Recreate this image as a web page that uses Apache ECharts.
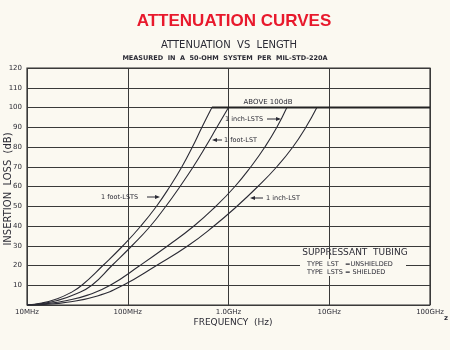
<!DOCTYPE html>
<html><head><meta charset="utf-8">
<script src="https://cdn.jsdelivr.net/npm/echarts@6/dist/echarts.min.js"></script>
<style>html,body{margin:0;padding:0;background:#fbf9f1;}#c{width:450px;height:350px;}</style>
</head><body><div id="c"></div>
<script>
// Frequencies in MHz, insertion loss in dB
const xTickLabels = {10:'10MHz',100:'100MHz',1000:'1.0GHz',10000:'10GHz',100000:'100GHz'};
const yTicks = [0,10,20,30,40,50,60,70,80,90,100,110,120];
const footLSTS = [[10,0],[14,1],[20,3.2],[27,6.2],[35,10],[56.7,20],[89.6,30],[135,40],[193,50],[262,60],[345,70],[438,80],[545,90],[684,100]];
const footLST  = [[10,0],[14,0.7],[20,2.3],[30,5.5],[44,10],[69.7,20],[110,30],[168,40],[239,50],[330,60],[447,70],[590,80],[767,90],[1000,100]];
const inchLSTS = [[10,0],[15,0.6],[25,2.3],[40,5],[67,10],[132,20],[250,30],[454,40],[750,50],[1158,60],[1668,70],[2297,80],[3020,90],[3796,100]];
const inchLST  = [[10,0],[15,0.3],[25,1.4],[50,4.6],[90,10],[193,20],[396,30],[717,40],[1212,50],[1957,60],[3020,70],[4354,80],[5860,90],[7534,100]];
const above100 = [[684,100],[100000,100]];

const ink = '#2b2b35';
const bg = '#fbf9f1';
const font = 'DejaVu Sans';
const chart = echarts.init(document.getElementById('c'));
function curve(name, data){
  return {name, type:'line', data, smooth:0.5, symbol:'none',
    lineStyle:{color:ink, width:1.1}, z:5};
}
chart.setOption({
  backgroundColor:bg,
  animation:false,
  grid:{left:27, right:20, top:68, bottom:45, show:true, borderColor:'#333', borderWidth:1.2},
  xAxis:{type:'log', logBase:10, min:10, max:100000,
    axisLine:{show:false}, axisTick:{show:false},
    splitLine:{show:true, lineStyle:{color:'#3a3a3a', width:1}},
    axisLabel:{color:ink, fontFamily:font, fontSize:7, margin:4,
      formatter:v=>xTickLabels[Math.round(v)]||''}},
  yAxis:{type:'value', min:0, max:120, interval:10,
    axisLine:{show:false}, axisTick:{show:false},
    splitLine:{show:true, lineStyle:{color:'#3a3a3a', width:1}},
    axisLabel:{color:ink, fontFamily:font, fontSize:7, margin:5,
      formatter:v=>v===0?'':String(v)}},
  series:[
    curve('1 foot-LSTS', footLSTS),
    curve('1 foot-LST', footLST),
    curve('1 inch-LSTS', inchLSTS),
    curve('1 inch-LST', inchLST),
    {name:'above', type:'line', data:above100, symbol:'none', lineStyle:{color:'#222', width:2}, z:6}
  ],
  graphic:[
    {type:'text', x:234, y:21, style:{text:'ATTENUATION CURVES', fill:'#e8192c', font:'bold 17px "Liberation Sans"', textAlign:'center', textVerticalAlign:'middle'}},
    {type:'text', x:229, y:45, style:{text:'ATTENUATION  VS  LENGTH', fill:ink, font:'10px "DejaVu Sans"', textAlign:'center', textVerticalAlign:'middle'}},
    {type:'text', x:225, y:58, style:{text:'MEASURED  IN  A  50-OHM  SYSTEM  PER  MIL-STD-220A', fill:ink, font:'bold 6.5px "DejaVu Sans"', textAlign:'center', textVerticalAlign:'middle'}},
    {type:'text', x:8, y:189, rotation:Math.PI/2, style:{text:'INSERTION  LOSS  (dB)', fill:ink, font:'10px "DejaVu Sans"', textAlign:'center', textVerticalAlign:'middle'}},
    {type:'text', x:233, y:323, style:{text:'FREQUENCY  (Hz)', fill:ink, font:'9px "DejaVu Sans"', textAlign:'center', textVerticalAlign:'middle'}},
    {type:'text', x:446, y:318, style:{text:'z', fill:ink, font:'bold 7px "DejaVu Sans"', textAlign:'center', textVerticalAlign:'middle'}},
    {type:'text', x:268, y:102, z:10, style:{text:'ABOVE 100dB', fill:ink, font:'7px "DejaVu Sans"', textAlign:'center', textVerticalAlign:'middle'}},
    // 1 inch-LSTS label + arrow
    {type:'text', x:225, y:119, z:10, style:{text:'1 inch-LSTS', fill:ink, font:'6.5px "DejaVu Sans"', textAlign:'left', textVerticalAlign:'middle'}},
    {type:'line', z:10, shape:{x1:267, y1:119, x2:279, y2:119}, style:{stroke:ink, lineWidth:1}},
    {type:'polygon', z:10, shape:{points:[[281,119],[276,117],[276,121]]}, style:{fill:ink}},
    // 1 foot-LST
    {type:'polygon', z:10, shape:{points:[[212,140],[217,138],[217,142]]}, style:{fill:ink}},
    {type:'line', z:10, shape:{x1:216, y1:140, x2:222, y2:140}, style:{stroke:ink, lineWidth:1}},
    {type:'text', x:224, y:140, z:10, style:{text:'1 foot-LST', fill:ink, font:'6.5px "DejaVu Sans"', textAlign:'left', textVerticalAlign:'middle'}},
    // 1 foot-LSTS
    {type:'text', x:101, y:197, z:10, style:{text:'1 foot-LSTS', fill:ink, font:'6.5px "DejaVu Sans"', textAlign:'left', textVerticalAlign:'middle'}},
    {type:'line', z:10, shape:{x1:147, y1:197, x2:157, y2:197}, style:{stroke:ink, lineWidth:1}},
    {type:'polygon', z:10, shape:{points:[[160,197],[155,195],[155,199]]}, style:{fill:ink}},
    // 1 inch-LST
    {type:'polygon', z:10, shape:{points:[[250,198],[255,196],[255,200]]}, style:{fill:ink}},
    {type:'line', z:10, shape:{x1:254, y1:198, x2:263, y2:198}, style:{stroke:ink, lineWidth:1}},
    {type:'text', x:266, y:198, z:10, style:{text:'1 inch-LST', fill:ink, font:'6.5px "DejaVu Sans"', textAlign:'left', textVerticalAlign:'middle'}},
    // Legend box text
    {type:'text', x:355, y:253, z:10, style:{text:'SUPPRESSANT  TUBING', fill:ink, font:'9px "DejaVu Sans"', textAlign:'center', textVerticalAlign:'middle'}},
    {type:'rect', z:9, shape:{x:300, y:259, width:106, height:17}, style:{fill:bg}},
    {type:'text', x:307, y:264, z:10, style:{text:'TYPE  LST   =UNSHIELDED', fill:ink, font:'6.5px "DejaVu Sans"', textAlign:'left', textVerticalAlign:'middle'}},
    {type:'text', x:307, y:272, z:10, style:{text:'TYPE  LSTS = SHIELDED', fill:ink, font:'6.5px "DejaVu Sans"', textAlign:'left', textVerticalAlign:'middle'}}
  ]
});
</script></body></html>
